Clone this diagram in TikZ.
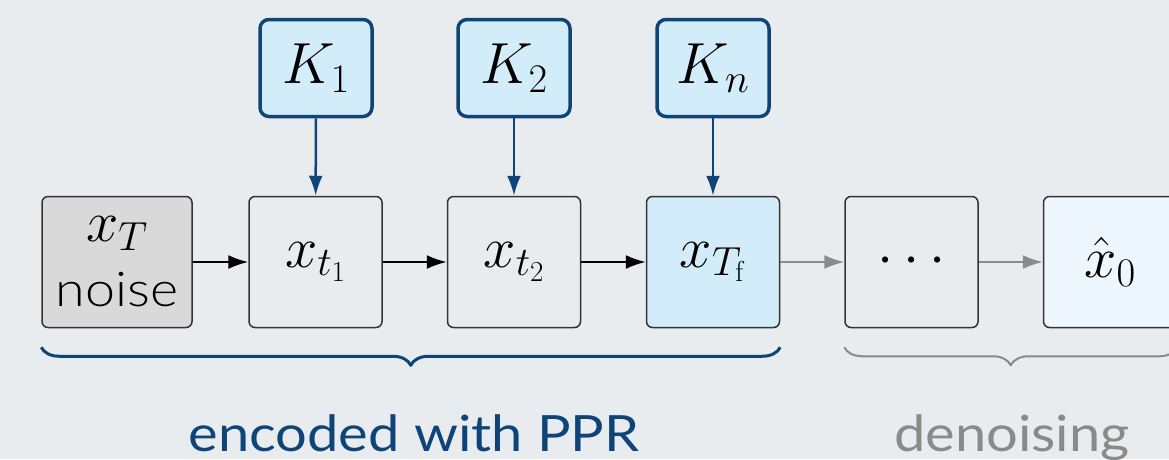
\RequirePackage{fix-cm}
\documentclass[tikz,border=0pt]{standalone}
\usepackage[no-math]{fontspec}
\setmainfont{Lato}[FakeStretch=1.12]
\newfontfamily\latolight{Lato Light}[FakeStretch=1.12]
\usetikzlibrary{arrows.meta,decorations.pathreplacing}
\definecolor{bgcol}{HTML}{E9ECEE}
\definecolor{pprblue}{HTML}{0E4478}
\definecolor{keyfill}{HTML}{D2ECF9}
\definecolor{outfill}{HTML}{EEF7FD}
\definecolor{noisegray}{HTML}{D9D9D9}
\definecolor{stepgray}{HTML}{8A8A8A}
\begin{document}
\begin{tikzpicture}[x=1pt,y=-1pt,line join=round,>={Latex[length=20pt,width=14pt]},
		stage/.style={draw=black!80,line width=1.5pt,rounded corners=6pt,fill=bgcol,minimum width=133pt,minimum height=131pt,inner sep=0pt,align=center,font=\fontsize{58}{64}\selectfont},
		key/.style={draw=pprblue,line width=3.5pt,rounded corners=9pt,fill=keyfill,minimum width=112pt,minimum height=97pt,inner sep=0pt,font=\fontsize{58}{64}\selectfont},
		keyarrow/.style={->,draw=pprblue,line width=2.5pt},
		fwd/.style={->,line width=2pt},
		rev/.style={->,draw=stepgray,line width=2pt},
		lbl/.style={anchor=base,font=\fontsize{50}{60}\selectfont}]
	\fill[bgcol] (0,0) rectangle (1169,459);
	\clip (0,0) rectangle (1169,459);
	\node[stage,fill=noisegray,minimum width=150pt] (xT) at (117,262) {$x_T$\\[1pt]{\latolight\fontsize{48}{56}\selectfont noise}};
	\node[stage] (xt1) at (315.5,262) {$x_{t_1}$};
	\node[stage] (xt2) at (514,262) {$x_{t_2}$};
	\node[stage,fill=keyfill] (xTf) at (713,262) {$x_{T_{\mathrm{f}}}$};
	\node[stage] (dots) at (911.5,262) {$\cdots$};
	\node[stage,fill=outfill] (x0) at (1110,262) {$\hat{x}_0$};
	\node[key] (k1) at (316,68) {$K_1$};
	\node[key] (k2) at (514,68) {$K_2$};
	\node[key] (kn) at (713,68) {$K_n$};
	\draw[keyarrow] (k1) -- (xt1);
	\draw[keyarrow] (k2) -- (xt2);
	\draw[keyarrow] (kn) -- (xTf);
	\draw[fwd] (xT) -- (xt1);
	\draw[fwd] (xt1) -- (xt2);
	\draw[fwd] (xt2) -- (xTf);
	\draw[rev] (xTf) -- (dots);
	\draw[rev] (dots) -- (x0);
	\draw[pprblue,line width=3pt,decorate,decoration={brace,mirror,amplitude=18pt}] (xT.south west) ++(0,19) coordinate (encl) -- (xTf.south east |- encl);
	\draw[stepgray,line width=2pt,decorate,decoration={brace,mirror,amplitude=18pt}] (dots.south west) ++(0,19) coordinate (denl) -- (x0.south east |- denl);
	\node[lbl,text=pprblue] (enc) at (414,451) {encoded with PPR};
	\node[lbl,text=stepgray] (den) at (1012,451) {denoising};
\end{tikzpicture}
\end{document}
